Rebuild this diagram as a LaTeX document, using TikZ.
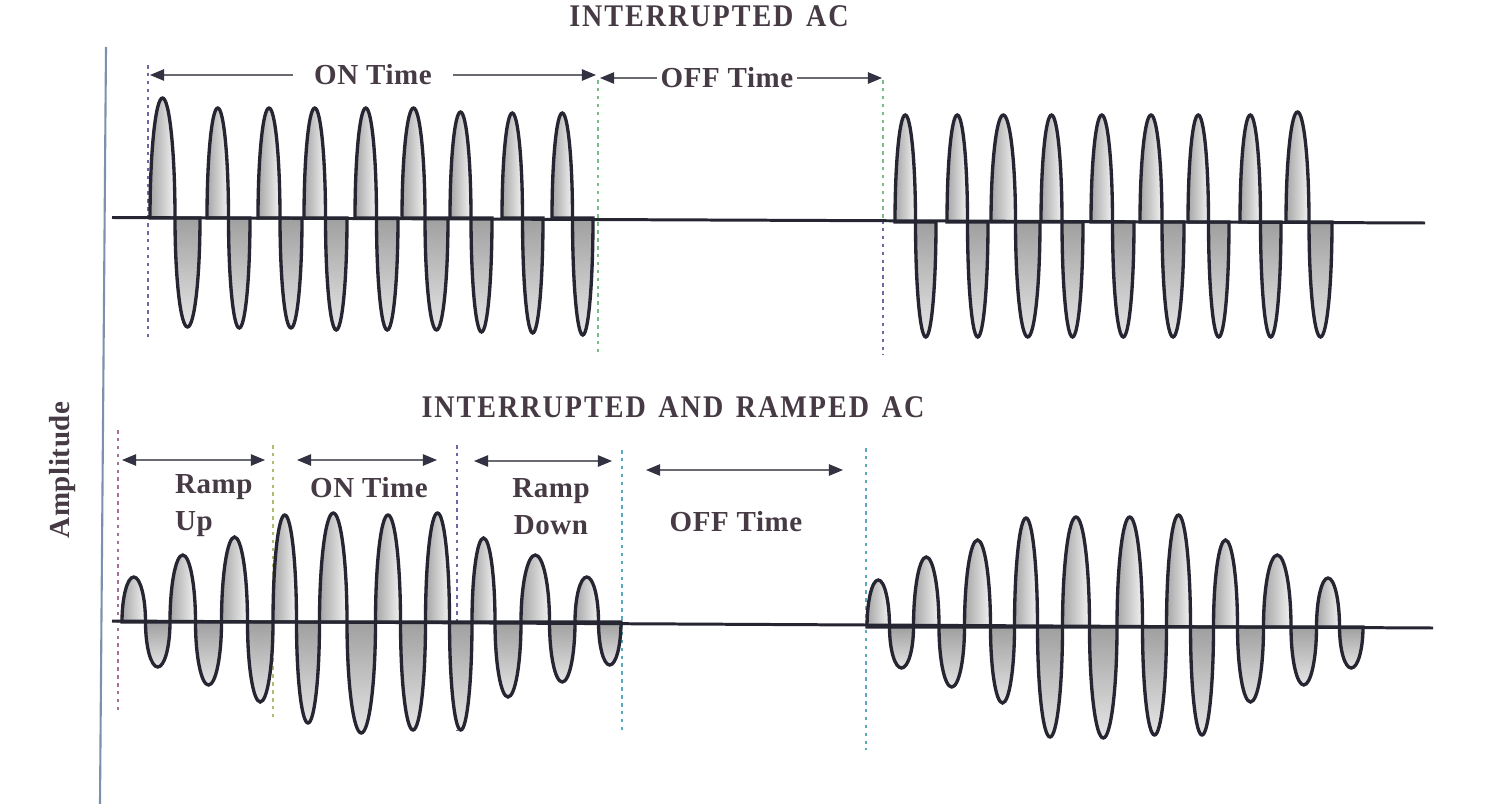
\documentclass[tikz,border=0pt]{standalone}
\usepackage{fontspec}
\setmainfont{Liberation Serif}
\usetikzlibrary{arrows.meta}
\definecolor{txt}{RGB}{70,58,68}
\definecolor{wave}{RGB}{38,38,50}
\definecolor{axisc}{RGB}{125,145,175}
\definecolor{arrc}{RGB}{105,105,112}
\definecolor{tipc}{RGB}{50,50,66}
\definecolor{dpurple}{RGB}{115,100,170}
\definecolor{dgreen}{RGB}{120,190,130}
\definecolor{dteal}{RGB}{90,170,190}
\definecolor{dpink}{RGB}{170,110,150}
\definecolor{dyel}{RGB}{170,190,110}
\newcommand\titlefont{\bfseries\fontsize{16}{19}\selectfont\addfontfeature{LetterSpace=7}\spaceskip 0.45em\relax}
\tikzset{
  title/.style={text=txt, inner sep=1pt, yscale=1.12, font={\titlefont}},
  lab/.style={text=txt, inner sep=1pt, font={\bfseries\fontsize{16.5}{21}\selectfont\addfontfeature{LetterSpace=2}}},
  tipk/.tip={Triangle[length=8pt,width=6.5pt,color=tipc]},
  arr/.style={draw=arrc, line width=0.7pt, -tipk},
  darr/.style={draw=arrc, line width=0.7pt, tipk-tipk},
  guide/.style={line width=0.8pt, dash pattern=on 2pt off 2.5pt},
  baseln/.style={draw=wave, line width=1.7pt},
  poslobe/.style={draw=wave, line width=1.9pt, left color=gray!70, right color=gray!10},
  neglobe/.style={draw=wave, line width=1.9pt, top color=gray!75, bottom color=gray!20},
}
\begin{document}
\begin{tikzpicture}[x=0.02cm,y=-0.02cm]
\fill[white] (0,0) rectangle (1500,804);
\useasboundingbox (0,0) rectangle (1500,804);

% amplitude axis
\draw[axisc, line width=1.2pt] (106,47) -- (100,804);
\node[lab, rotate=90] (amp) at (63,470) {Amplitude};

% ---------- top panel ----------
\node[title] (t1) at (709,16) {INTERRUPTED AC};

\draw[guide, dpurple] (148,65) -- (148,340);
\draw[guide, dgreen] (598,80) -- (598,355);
\draw[guide, dgreen] (883,80) -- (883,220);
\draw[guide, dpurple] (883,220) -- (883,355);

% top-left burst
\foreach \s/\e/\pk/\bt in {150/200/98/327, 207/250/108/328, 258/302/108/328, 304/347/108/330,
  355/398/108/330, 402/448/108/330, 450/492/112/332, 502/543/113/333, 552/593/113/335}{
  \pgfmathsetmacro\B{218}
  \pgfmathsetmacro\m{(\s+\e)/2}
  \pgfmathsetmacro\k{0.5523*(\m-\s)/2}
  \pgfmathsetmacro\ca{(\s+\m)/2}
  \pgfmathsetmacro\cb{(\m+\e)/2}
  \pgfmathsetmacro\qa{\B+0.5523*(\pk-\B)}
  \pgfmathsetmacro\qb{\B+0.5523*(\bt-\B)}
  \shadedraw[poslobe] (\s,\B) .. controls (\s,\qa) and ({\ca-\k},\pk) .. (\ca,\pk)
     .. controls ({\ca+\k},\pk) and (\m,\qa) .. (\m,\B) -- cycle;
  \shadedraw[neglobe] (\m,\B) .. controls (\m,\qb) and ({\cb-\k},\bt) .. (\cb,\bt)
     .. controls ({\cb+\k},\bt) and (\e,\qb) .. (\e,\B) -- cycle;
}
% top-right burst
\foreach \s/\e/\pk/\bt in {895/936/115/337, 947/988/115/337, 991/1040/115/337, 1041/1083/115/337,
  1091/1134/115/337, 1140/1184/115/337, 1188/1229/115/337, 1240/1281/115/337, 1286/1332/112/337}{
  \pgfmathsetmacro\B{222}
  \pgfmathsetmacro\m{(\s+\e)/2}
  \pgfmathsetmacro\k{0.5523*(\m-\s)/2}
  \pgfmathsetmacro\ca{(\s+\m)/2}
  \pgfmathsetmacro\cb{(\m+\e)/2}
  \pgfmathsetmacro\qa{\B+0.5523*(\pk-\B)}
  \pgfmathsetmacro\qb{\B+0.5523*(\bt-\B)}
  \shadedraw[poslobe] (\s,\B) .. controls (\s,\qa) and ({\ca-\k},\pk) .. (\ca,\pk)
     .. controls ({\ca+\k},\pk) and (\m,\qa) .. (\m,\B) -- cycle;
  \shadedraw[neglobe] (\m,\B) .. controls (\m,\qb) and ({\cb-\k},\bt) .. (\cb,\bt)
     .. controls ({\cb+\k},\bt) and (\e,\qb) .. (\e,\B) -- cycle;
}
\draw[baseln] (112,217.5) -- (1425,223);

% top arrows
\node[lab, inner xsep=12pt] (ont) at (373,75) {ON Time};
\coordinate (onL) at (150,75);
\coordinate (onR) at (596,75);
\draw[arr] (ont.west) -- (onL);
\draw[arr] (ont.east) -- (onR);
\node[lab, inner xsep=2pt] (offt) at (727,78) {OFF Time};
\coordinate (offL) at (600,78);
\coordinate (offR) at (882,78);
\draw[arr] (offt.west) -- (offL);
\draw[arr] (offt.east) -- (offR);

% ---------- bottom panel ----------
\node[title] (t2) at (673,407) {INTERRUPTED AND RAMPED AC};

\draw[guide, dpink] (118,430) -- (118,712);
\draw[guide, dyel] (273,445) -- (273,720);
\draw[guide, dpurple] (457,445) -- (457,730);
\draw[guide, dteal] (622,450) -- (622,730);
\draw[guide, dteal] (866,448) -- (866,750);

% bottom-left ramped burst
\foreach \l/\r/\p in {122/145.5/577, 170/195.5/555, 221.5/247.5/537, 273/296.5/515, 319.5/347/513,
  375.5/400.5/515, 425.5/449.5/513, 472/495/538, 521/549.5/555, 575/598.5/577}{
  \pgfmathsetmacro\B{622}
  \pgfmathsetmacro\c{(\l+\r)/2}
  \pgfmathsetmacro\k{0.5523*(\r-\l)/2}
  \pgfmathsetmacro\q{\B+0.5523*(\p-\B)}
  \shadedraw[poslobe] (\l,\B) .. controls (\l,\q) and ({\c-\k},\p) .. (\c,\p)
     .. controls ({\c+\k},\p) and (\r,\q) .. (\r,\B) -- cycle;
}
\foreach \l/\r/\p in {145.5/170/667, 195.5/221.5/685, 247.5/273/702, 296.5/319.5/723, 347/375.5/733,
  400.5/425.5/730, 449.5/472/730, 495/521/697, 549.5/575/682, 598.5/621/665}{
  \pgfmathsetmacro\B{622}
  \pgfmathsetmacro\c{(\l+\r)/2}
  \pgfmathsetmacro\k{0.5523*(\r-\l)/2}
  \pgfmathsetmacro\q{\B+0.5523*(\p-\B)}
  \shadedraw[neglobe] (\l,\B) .. controls (\l,\q) and ({\c-\k},\p) .. (\c,\p)
     .. controls ({\c+\k},\p) and (\r,\q) .. (\r,\B) -- cycle;
}
% bottom-right ramped burst
\foreach \l/\r/\p in {867/889.5/580, 913.5/939/557, 964.5/990.5/540, 1014.5/1037.5/518, 1062.5/1089.5/517,
  1117/1142.5/517, 1166.5/1190.5/515, 1213.5/1237.5/540, 1263.5/1291/555, 1316.5/1339.5/578}{
  \pgfmathsetmacro\B{627}
  \pgfmathsetmacro\c{(\l+\r)/2}
  \pgfmathsetmacro\k{0.5523*(\r-\l)/2}
  \pgfmathsetmacro\q{\B+0.5523*(\p-\B)}
  \shadedraw[poslobe] (\l,\B) .. controls (\l,\q) and ({\c-\k},\p) .. (\c,\p)
     .. controls ({\c+\k},\p) and (\r,\q) .. (\r,\B) -- cycle;
}
\foreach \l/\r/\p in {889.5/913.5/668, 939/964.5/687, 990.5/1014.5/703, 1037.5/1062.5/737, 1089.5/1117/738,
  1142.5/1166.5/735, 1190.5/1213.5/735, 1237.5/1263.5/702, 1291/1316.5/685, 1339.5/1363/668}{
  \pgfmathsetmacro\B{627}
  \pgfmathsetmacro\c{(\l+\r)/2}
  \pgfmathsetmacro\k{0.5523*(\r-\l)/2}
  \pgfmathsetmacro\q{\B+0.5523*(\p-\B)}
  \shadedraw[neglobe] (\l,\B) .. controls (\l,\q) and ({\c-\k},\p) .. (\c,\p)
     .. controls ({\c+\k},\p) and (\r,\q) .. (\r,\B) -- cycle;
}
\draw[baseln] (112,621) -- (1433,628);

% bottom arrows and labels
\coordinate (ruL) at (122,460);  \coordinate (ruR) at (265,460);
\coordinate (boL) at (297,460);  \coordinate (boR) at (437,460);
\coordinate (rdL) at (474,461);  \coordinate (rdR) at (612,461);
\coordinate (bfL) at (646,470);  \coordinate (bfR) at (843,470);
\draw[darr] (ruL) -- (ruR);
\draw[darr] (boL) -- (boR);
\draw[darr] (rdL) -- (rdR);
\draw[darr] (bfL) -- (bfR);

\node[lab, align=left, anchor=west] (ru) at (173,506) {Ramp\\Up};
\node[lab] (bon) at (369,488) {ON Time};
\node[lab, align=center] (rd) at (551,507) {Ramp\\Down};
\node[lab] (boff) at (736,522) {OFF Time};
\end{tikzpicture}
\end{document}
